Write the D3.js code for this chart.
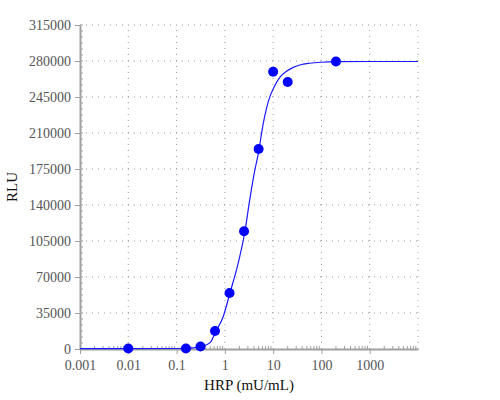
<!DOCTYPE html>
<html>
<head>
<meta charset="utf-8">
<script src="https://cdn.jsdelivr.net/npm/d3@7"></script>
<style>
  body { margin: 0; background: #fff; }
  svg text { font-family: "Liberation Serif", "Times New Roman", Times, "DejaVu Serif", serif !important; }
</style>
</head>
<body>
<div id="chart"></div>
<script>
// measured standards (HRP mU/mL vs RLU)
const hrp = [0.01, 0.156, 0.3125, 0.625, 1.25, 2.5, 5, 10, 20, 200];
const rlu = [500, 400, 2500, 17500, 54500, 114500, 194500, 269500, 259500, 279500];

// fitted curve
const fitX = [0.001, 0.01, 0.1, 0.2, 0.33, 0.5, 0.643, 0.923, 1.27, 1.9, 2.6, 3.29, 4.1, 5.13, 5.75, 7.87, 10.8, 14, 18.9, 26, 35.6, 57.4, 100, 208, 1000, 10000];
const fitY = [300, 300, 500, 900, 2240, 6500, 16800, 31400, 54200, 84000, 114000, 145800, 172000, 194400, 209700, 240000, 256000, 264500, 270000, 273800, 276100, 277800, 278800, 279300, 279500, 279500];

const xTicks = [0.001, 0.01, 0.1, 1, 10, 100, 1000];
const xTickLabels = ["0.001", "0.01", "0.1", "1", "10", "100", "1000"];
const yTicks = [0, 35000, 70000, 105000, 140000, 175000, 210000, 245000, 280000, 315000];

const width = 500, height = 400;
const margin = { top: 25, right: 82, bottom: 51, left: 80 };

const svg = d3.select("#chart").append("svg")
  .attr("width", width)
  .attr("height", height);

const x = d3.scaleLog().domain([0.001, 10000]).range([margin.left, width - margin.right]);
const y = d3.scaleLinear().domain([0, 315000]).range([height - margin.bottom, margin.top]);

const gridColor = "#999";
const axisColor = "#a0a0a0";

// grid
const grid = svg.append("g");
grid.selectAll(".gx")
  .data(xTicks.slice(1).concat([10000]))
  .enter().append("line")
  .attr("x1", d => x(d)).attr("x2", d => x(d))
  .attr("y1", y(0)).attr("y2", y(315000))
  .attr("stroke", gridColor)
  .attr("stroke-dasharray", "1,5");
grid.selectAll(".gy")
  .data(yTicks.slice(1))
  .enter().append("line")
  .attr("x1", x(0.001)).attr("x2", x(10000))
  .attr("y1", d => y(d)).attr("y2", d => y(d))
  .attr("stroke", gridColor)
  .attr("stroke-dasharray", "1,5");

// minor ticks
const minorX = [];
for (let e = -3; e < 4; e++) for (let m = 2; m < 10; m++) minorX.push(m * Math.pow(10, e));
const minorY = d3.range(0, 315001, 35000 / 6);

svg.append("g").selectAll("line")
  .data(minorX)
  .enter().append("line")
  .attr("x1", d => x(d)).attr("x2", d => x(d))
  .attr("y1", y(0)).attr("y2", y(0) - 3)
  .attr("stroke", axisColor);
svg.append("g").selectAll("line")
  .data(minorY)
  .enter().append("line")
  .attr("x1", x(0.001)).attr("x2", x(0.001) + 3)
  .attr("y1", d => y(d)).attr("y2", d => y(d))
  .attr("stroke", axisColor);

// axes
const xAxis = svg.append("g")
  .attr("transform", `translate(0,${y(0)})`)
  .call(d3.axisBottom(x).tickValues(xTicks).tickFormat((d, i) => xTickLabels[i]).tickSize(5).tickSizeOuter(0));
const yAxis = svg.append("g")
  .attr("transform", `translate(${x(0.001)},0)`)
  .call(d3.axisLeft(y).tickValues(yTicks).tickFormat(d3.format("d")).tickSize(5).tickSizeOuter(0));

[xAxis, yAxis].forEach(a => {
  a.attr("font-family", null);
  a.select(".domain").attr("stroke", axisColor).attr("stroke-width", 2);
  a.selectAll(".tick line").attr("stroke", axisColor);
  a.selectAll(".tick text")
    .attr("fill", "#555")
    .style("font-size", "14px");
});
xAxis.selectAll(".tick text").attr("dy", "0.95em");
yAxis.selectAll(".tick text").attr("dx", "-1px");

// fitted curve
const line = d3.line()
  .x((d, i) => x(fitX[i]))
  .y(d => y(d))
  .curve(d3.curveMonotoneX);
svg.append("path")
  .datum(fitY)
  .attr("d", line)
  .attr("fill", "none")
  .attr("stroke", "#1a1aff")
  .attr("stroke-width", 1.2);

// points
svg.append("g").selectAll("circle")
  .data(hrp)
  .enter().append("circle")
  .attr("cx", d => x(d))
  .attr("cy", (d, i) => y(rlu[i]))
  .attr("r", 5)
  .attr("fill", "#0000ff");

// titles
svg.append("text")
  .attr("x", (x(0.001) + x(10000)) / 2)
  .attr("y", 390)
  .attr("text-anchor", "middle")
  .style("font-size", "15px")
  .attr("fill", "#111")
  .text("HRP (mU/mL)");
svg.append("text")
  .attr("transform", `translate(17,${(y(0) + y(315000)) / 2}) rotate(-90)`)
  .attr("text-anchor", "middle")
  .style("font-size", "15px")
  .attr("fill", "#111")
  .text("RLU");
</script>
</body>
</html>
